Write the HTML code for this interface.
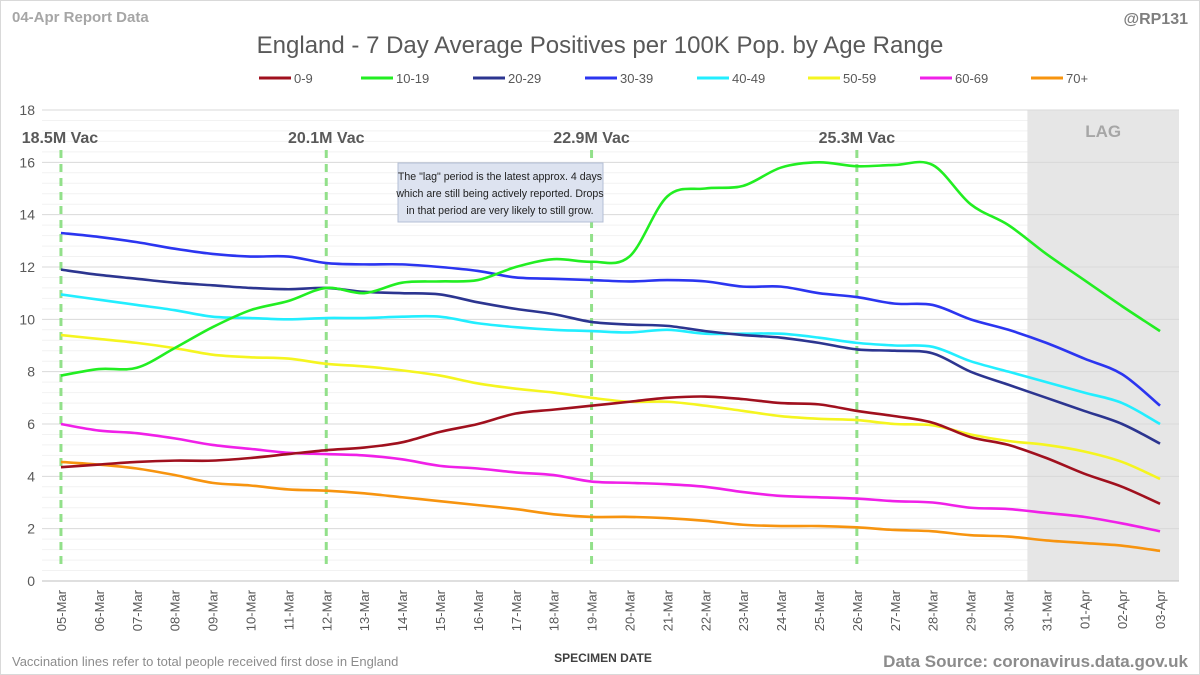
<!DOCTYPE html>
<html><head><meta charset="utf-8"><style>
body{margin:0;background:#fff;font-family:"Liberation Sans",sans-serif}
#wrap{position:relative;width:1200px;height:675px;overflow:hidden}
</style></head><body>
<div id="wrap">
<svg id="c" width="1200" height="675"></svg>
</div>
<script>
const dates=["05-Mar","06-Mar","07-Mar","08-Mar","09-Mar","10-Mar","11-Mar","12-Mar","13-Mar","14-Mar","15-Mar","16-Mar","17-Mar","18-Mar","19-Mar","20-Mar","21-Mar","22-Mar","23-Mar","24-Mar","25-Mar","26-Mar","27-Mar","28-Mar","29-Mar","30-Mar","31-Mar","01-Apr","02-Apr","03-Apr"];
const seriesNames=["0-9","10-19","20-29","30-39","40-49","50-59","60-69","70+"];
const s0=[4.35,4.45,4.55,4.6,4.6,4.7,4.85,5.0,5.1,5.3,5.7,6.0,6.4,6.55,6.7,6.85,7.0,7.05,6.95,6.8,6.75,6.5,6.3,6.05,5.5,5.2,4.7,4.1,3.6,2.95];
const s1=[7.85,8.1,8.15,8.9,9.7,10.35,10.7,11.2,11.0,11.4,11.45,11.5,12.0,12.3,12.2,12.4,14.7,15.0,15.1,15.8,16.0,15.85,15.9,15.9,14.4,13.6,12.5,11.5,10.5,9.55];
const s2=[11.9,11.7,11.55,11.4,11.3,11.2,11.15,11.2,11.05,11.0,10.95,10.65,10.4,10.2,9.9,9.8,9.75,9.55,9.4,9.3,9.1,8.85,8.8,8.7,8.0,7.5,7.0,6.5,6.0,5.25];
const s3=[13.3,13.15,12.95,12.7,12.5,12.4,12.4,12.15,12.1,12.1,12.0,11.85,11.6,11.55,11.5,11.45,11.5,11.45,11.25,11.25,11.0,10.85,10.6,10.55,10.0,9.6,9.1,8.5,7.9,6.7];
const s4=[10.95,10.75,10.55,10.35,10.1,10.05,10.0,10.05,10.05,10.1,10.1,9.85,9.7,9.6,9.55,9.5,9.6,9.45,9.45,9.45,9.3,9.1,9.0,8.95,8.4,8.0,7.6,7.2,6.8,6.0];
const s5=[9.4,9.25,9.1,8.9,8.65,8.55,8.5,8.3,8.2,8.05,7.85,7.55,7.35,7.2,7.0,6.85,6.85,6.7,6.5,6.3,6.2,6.15,6.0,5.95,5.6,5.35,5.2,4.95,4.55,3.9];
const s6=[6.0,5.75,5.65,5.45,5.2,5.05,4.9,4.85,4.8,4.65,4.4,4.3,4.15,4.05,3.8,3.75,3.7,3.6,3.4,3.25,3.2,3.15,3.05,3.0,2.8,2.75,2.6,2.45,2.2,1.9];
const s7=[4.55,4.45,4.3,4.05,3.75,3.65,3.5,3.45,3.35,3.2,3.05,2.9,2.75,2.55,2.45,2.45,2.4,2.3,2.15,2.1,2.1,2.05,1.95,1.9,1.75,1.7,1.55,1.45,1.35,1.15];
const yTicks=[0,2,4,6,8,10,12,14,16,18];
const vacIdx=[0,7,14,21];
const vacLabels=["18.5M Vac","20.1M Vac","22.9M Vac","25.3M Vac"];
const lagStartIdx=26;

const colors=["#a0101e","#22ee22","#2c3590","#2b35f0","#22eeff","#f5f520","#f020e8","#f7940f"];
const allS=[s0,s1,s2,s3,s4,s5,s6,s7];
const L=42,R=1179,T=110,B=581,yMax=18;
const cw=(R-L)/dates.length;
const X=i=>L+cw*(i+0.5);
const Y=v=>B-(v/yMax)*(B-T);
const NS="http://www.w3.org/2000/svg";
const svg=document.getElementById('c');
function mk(tag,attrs,parent){const e=document.createElementNS(NS,tag);for(const k in attrs)e.setAttribute(k,attrs[k]);(parent||svg).appendChild(e);return e;}
function tx(str,attrs){const e=mk('text',attrs);e.textContent=str;return e;}

let e;
e=mk('rect',{x:0.5,y:0.5,width:1199,height:674,fill:'#fff',stroke:'#d9d9d9'});


// minor grid
for(let v=0.4;v<yMax;v+=0.4){if(Math.abs(v/2-Math.round(v/2))<0.01)continue;
 e=mk('line',{x1:L,x2:R,y1:Y(v),y2:Y(v),stroke:'#f2f2f2','stroke-width':1});
 
 }
// lag region
e=mk('rect',{x:L+cw*lagStartIdx,y:T,width:R-(L+cw*lagStartIdx),height:B-T,fill:'#e6e6e6'});


e=tx('LAG',{x:(L+cw*lagStartIdx+R)/2,y:137,'text-anchor':'middle','font-size':17,'font-weight':'bold',fill:'#a6a6a6'});


yTicks.forEach(v=>{
 e=mk('line',{x1:L,x2:R,y1:Y(v),y2:Y(v),stroke:v===0?'#bfbfbf':'#d9d9d9','stroke-width':1});
 
 
 e=tx(String(v),{x:35,y:Y(v)+5,'text-anchor':'end','font-size':14,fill:'#595959'});
 
 
});
// x labels
dates.forEach((d,i)=>{
 e=tx(d,{x:0,y:0,transform:`translate(${X(i)+5},590) rotate(-90)`,'text-anchor':'end','font-size':13,fill:'#595959'});
 
 
});
// vac lines
vacIdx.forEach((idx,k)=>{
 e=mk('line',{x1:X(idx),x2:X(idx),y1:150,y2:568,stroke:'#92e08a','stroke-width':3,'stroke-dasharray':'8,6'});
 
 
 e=tx(vacLabels[k],{x:X(idx)+(k===0?-1:0),y:143,'text-anchor':'middle','font-size':16,'font-weight':'bold',fill:'#595959'});
 
 
});
// series
function path(vals){const p=vals.map((v,i)=>[X(i),Y(v)]);let d=`M${p[0][0]},${p[0][1]}`;
 for(let i=0;i<p.length-1;i++){const p0=p[Math.max(0,i-1)],p1=p[i],p2=p[i+1],p3=p[Math.min(p.length-1,i+2)];
 d+=` C${p1[0]+(p2[0]-p0[0])/6},${p1[1]+(p2[1]-p0[1])/6} ${p2[0]-(p3[0]-p1[0])/6},${p2[1]-(p3[1]-p1[1])/6} ${p2[0]},${p2[1]}`;}return d;}
[7,6,5,4,0,2,3,1].forEach(k=>{
 e=mk('path',{d:path(allS[k]),fill:'none',stroke:colors[k],'stroke-width':2.6,'stroke-linejoin':'round'});
 
 
});
// annotation
const g=mk('g',{});


mk('rect',{x:398,y:163,width:205,height:59,fill:'#dde3f0',stroke:'#b4bfd6'},g);
["The \"lag\" period is the latest approx. 4 days","which are still being actively reported. Drops","in that period are very likely to still grow."].forEach((s,i)=>{
 const t=mk('text',{x:500,y:180+i*17,'text-anchor':'middle','font-size':10.6,fill:'#222'},g);t.textContent=s;});
// titles
e=tx('04-Apr Report Data',{x:12,y:22,'font-size':15,'font-weight':'bold',fill:'#a6a6a6'});


e=tx('@RP131',{x:1188,y:24,'text-anchor':'end','font-size':16,'font-weight':'bold',fill:'#7f7f7f'});


e=tx('England - 7 Day Average Positives per 100K Pop. by Age Range',{x:600,y:53,'text-anchor':'middle','font-size':24,fill:'#595959'});


// legend
const lx=[259,361,473,585,697,808,920,1031];
seriesNames.forEach((n,k)=>{
 const lg=mk('g',{});
 
 
 mk('line',{x1:lx[k],x2:lx[k]+32,y1:78,y2:78,stroke:colors[k],'stroke-width':3},lg);
 const t=mk('text',{x:lx[k]+35,y:83,'font-size':13,fill:'#595959'},lg);t.textContent=n;
});
e=tx('SPECIMEN DATE',{x:603,y:662,'text-anchor':'middle','font-size':12,'font-weight':'bold',fill:'#404040'});


e=tx('Vaccination lines refer to total people received first dose in England',{x:12,y:666,'font-size':13,fill:'#8c8c8c'});


e=tx('Data Source: coronavirus.data.gov.uk',{x:1188,y:667,'text-anchor':'end','font-size':17,'font-weight':'bold',fill:'#8c8c8c'});


</script>
</body></html>
